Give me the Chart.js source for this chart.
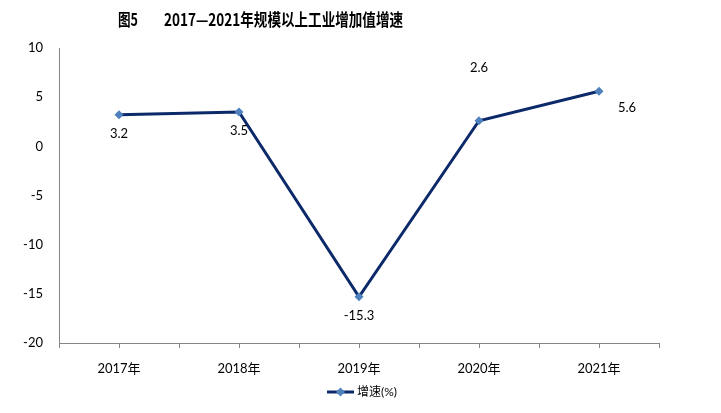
<!DOCTYPE html>
<html>
<head>
<meta charset="utf-8">
<script src="https://cdn.jsdelivr.net/npm/chart.js@4/dist/chart.umd.min.js"></script>
<style>
  html, body { margin: 0; padding: 0; background: #fff; }
  #wrap { width: 721px; height: 413px; }
</style>
</head>
<body>
<div id="wrap"><canvas id="myChart"></canvas></div>
<script>
// data
var years = ["2017年", "2018年", "2019年", "2020年", "2021年"];
var growth = [3.2, 3.5, -15.3, 2.6, 5.6];
var yTicks = [10, 5, 0, -5, -10, -15, -20];
var seriesName = "增速(%)";

var FONT = "Lato, 'Noto Sans CJK SC', sans-serif";
var lineColor = "#0c2a6a";
var markColor = "#4f81bd";

// where each value label sits round its point
var labelPlace = ["below", "below", "below", "above", "right"];

var extras = {
  id: "extras",
  afterDraw: function (chart) {
    var ctx = chart.ctx;
    var xs = chart.scales.x, ys = chart.scales.y;
    var meta = chart.getDatasetMeta(0);
    ctx.save();

    // title
    ctx.fillStyle = "#000";
    ctx.textBaseline = "middle";
    ctx.textAlign = "left";
    ctx.font = "bold 17px 'Noto Sans CJK SC', sans-serif";
    ctx.fillText("图5", 118, 20, 20);
    ctx.fillText("2017—2021年规模以上工业增加值增速", 164, 20, 239);

    // x-axis tick marks at boundaries and centres
    ctx.strokeStyle = "#868686";
    ctx.lineWidth = 1;
    var step = (xs.getPixelForValue(1) - xs.getPixelForValue(0)) / 2;
    for (var i = 0; i <= years.length * 2; i++) {
      var px = Math.round(xs.left + i * step) + 0.5;
      ctx.beginPath();
      ctx.moveTo(px, ys.bottom);
      ctx.lineTo(px, ys.bottom + 5);
      ctx.stroke();
    }

    // value labels
    ctx.font = "13px " + FONT;
    ctx.fillStyle = "#000";
    ctx.textAlign = "center";
    meta.data.forEach(function (pt, k) {
      var tx = pt.x, ty = pt.y;
      if (labelPlace[k] == "below") ty += 19;
      if (labelPlace[k] == "above") ty -= 53;
      if (labelPlace[k] == "right") { tx += 28; ty += 17; }
      ctx.fillText(growth[k].toFixed(1), tx, ty);
    });

    // legend
    var ly = 392, lx = 327;
    ctx.strokeStyle = lineColor;
    ctx.lineWidth = 3;
    ctx.beginPath();
    ctx.moveTo(lx, ly);
    ctx.lineTo(lx + 27, ly);
    ctx.stroke();
    ctx.fillStyle = markColor;
    ctx.beginPath();
    ctx.moveTo(lx + 13.5, ly - 4.5);
    ctx.lineTo(lx + 18, ly);
    ctx.lineTo(lx + 13.5, ly + 4.5);
    ctx.lineTo(lx + 9, ly);
    ctx.closePath();
    ctx.fill();
    ctx.fillStyle = "#000";
    ctx.textAlign = "left";
    ctx.font = "12px " + FONT;
    ctx.fillText(seriesName, lx + 30, ly);

    ctx.restore();
  }
};

var chartConfig = {
  type: "line",
  data: {
    labels: years,
    datasets: [{
      label: seriesName,
      data: growth,
      borderColor: lineColor,
      backgroundColor: markColor,
      borderWidth: 3,
      pointStyle: "rectRot",
      pointRadius: 4.5,
      pointBackgroundColor: markColor,
      pointBorderColor: markColor,
      pointBorderWidth: 0,
      fill: false,
      tension: 0
    }]
  },
  options: {
    responsive: true,
    maintainAspectRatio: false,
    animation: false,
    layout: { padding: { top: 48, right: 62, bottom: 0, left: 0 } },
    plugins: {
      legend: { display: false },
      title: { display: false },
      tooltip: { enabled: false }
    },
    scales: {
      x: {
        offset: true,
        grid: { display: false, drawTicks: false },
        border: { display: true, color: "#868686", width: 1 },
        ticks: { color: "#000", font: { size: 13, family: FONT }, padding: 18, maxRotation: 0 },
        afterFit: function (s) { s.height = 70; }
      },
      y: {
        min: -20,
        max: 10,
        grid: { display: false, drawTicks: false },
        border: { display: true, color: "#868686", width: 1 },
        afterBuildTicks: function (s) { s.ticks = yTicks.map(function (v) { return { value: v }; }); },
        ticks: { color: "#000", font: { size: 13, family: FONT }, padding: 16 },
        afterFit: function (s) { s.width = 59; }
      }
    }
  },
  plugins: [extras]
};

var myChart = new Chart(document.getElementById("myChart"), chartConfig);
</script>
</body>
</html>
